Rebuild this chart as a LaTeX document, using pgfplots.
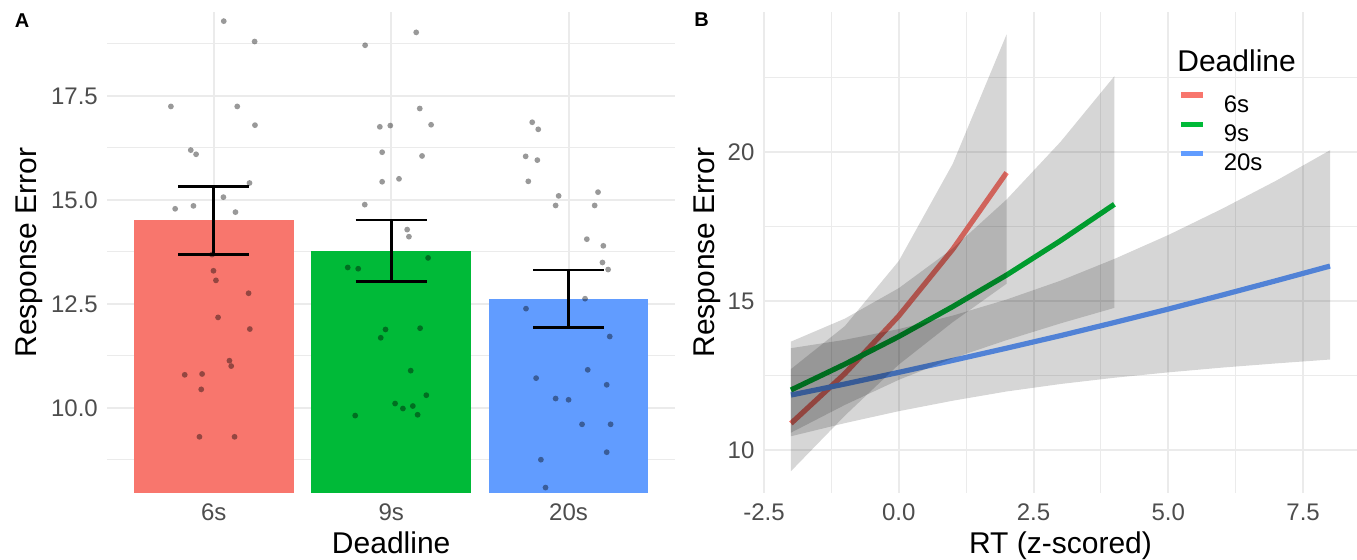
\documentclass[border=0pt]{standalone}
\usepackage{pgfplots}
\pgfplotsset{compat=1.18}
\usepackage{fontspec}
\setmainfont{Liberation Sans}
\definecolor{c6}{HTML}{F8766D}
\definecolor{c9}{HTML}{00BA38}
\definecolor{c20}{HTML}{619CFF}
\definecolor{gridc}{HTML}{EBEBEB}
\definecolor{tickc}{HTML}{4D4D4D}
\pgfplotsset{
  myaxis/.style={
    anchor=south west, scale only axis, enlargelimits=false,
    axis line style={draw=none},
    major tick length=0pt, minor tick length=0pt,
    major grid style={gridc, line width=1pt},
    minor grid style={gridc, line width=0.55pt},
    tick label style={font=\fontsize{12}{12}\selectfont, text=tickc, inner sep=0pt, text height=8.6pt, text depth=0pt},
    xticklabel style={anchor=north, yshift=-5.15pt},
    yticklabel style={anchor=east, xshift=-4.6pt},
    label style={font=\fontsize{15}{15}\selectfont, inner sep=0pt, text height=10.8pt, text depth=0pt},
  },
  pts/.style={only marks, mark=*, mark size=1.45pt, mark options={fill=black, draw opacity=0, fill opacity=0.4}},
  eb/.style={black, line width=1.4pt},
  band/.style={fill=black, fill opacity=0.16, draw=none, forget plot},
}
\begin{document}
\begin{tikzpicture}
\path (0pt,0pt) rectangle (678.5pt,280pt);
% ---------------- Panel A ----------------
\begin{axis}[myaxis, at={(53.7pt,33.65pt)}, width=283.8pt, height=240.35pt,
  xmin=0.4, xmax=3.6, ymin=7.957, ymax=19.51,
  xtick={1,2,3}, xticklabels={6s,9s,20s},
  ytick={10,12.5,15,17.5}, yticklabels={10.0,12.5,15.0,17.5},
  minor ytick={8.75,11.25,13.75,16.25,18.75},
  xmajorgrids=true, ymajorgrids=true, yminorgrids=true,
  xlabel={Deadline}, ylabel={Response Error},
  xlabel style={at={(axis description cs:0.5,-0.1036)}, anchor=center},
  ylabel style={at={(axis description cs:-0.1445,0.5)}, anchor=center},
]
\addplot[ybar, bar width=0.9, fill=c6, draw=none] coordinates {(1,14.50)};
\addplot[ybar, bar width=0.9, fill=c9, draw=none] coordinates {(2,13.77)};
\addplot[ybar, bar width=0.9, fill=c20, draw=none] coordinates {(3,12.62)};
\addplot[pts] table {
x y
1.056 19.29
1.230 18.80
0.758 17.24
1.132 17.24
1.232 16.79
0.870 16.19
0.900 16.09
1.201 15.40
0.782 14.78
0.885 14.85
1.054 15.06
1.122 14.70
0.990 13.68
0.998 13.29
1.012 13.06
1.196 12.75
1.024 12.17
1.203 11.89
1.088 11.13
1.098 11.00
0.836 10.79
0.934 10.81
0.929 10.44
0.919 9.30
1.117 9.30
};
\addplot[pts] table {
x y
2.141 19.02
1.853 18.71
2.161 17.19
1.936 16.75
1.995 16.78
2.225 16.80
1.949 16.14
2.174 16.05
1.949 15.43
2.044 15.50
1.851 14.88
2.090 14.28
2.100 14.11
2.208 13.60
1.755 13.37
1.814 13.34
1.968 11.88
1.941 11.68
2.163 11.91
2.110 10.89
2.198 10.30
2.022 10.10
2.066 9.98
2.122 10.04
2.149 9.83
1.797 9.81
};
\addplot[pts] table {
x y
2.795 16.86
2.829 16.69
2.758 16.04
2.824 15.95
2.773 15.44
2.944 15.09
3.166 15.18
2.927 14.86
3.147 14.86
3.103 14.05
3.196 13.89
3.191 13.49
3.223 13.32
3.093 12.62
2.760 12.38
3.232 11.71
3.108 10.91
2.817 10.71
3.215 10.55
2.927 10.22
3.000 10.19
3.076 9.60
3.237 9.60
3.215 8.93
2.844 8.75
2.870 8.08
};
% error bars
\addplot[eb] coordinates {(1,13.68) (1,15.32)};
\addplot[eb] coordinates {(0.8,13.68) (1.2,13.68)};
\addplot[eb] coordinates {(0.8,15.32) (1.2,15.32)};
\addplot[eb] coordinates {(2,13.03) (2,14.51)};
\addplot[eb] coordinates {(1.8,13.03) (2.2,13.03)};
\addplot[eb] coordinates {(1.8,14.51) (2.2,14.51)};
\addplot[eb] coordinates {(3,11.93) (3,13.31)};
\addplot[eb] coordinates {(2.8,11.93) (3.2,11.93)};
\addplot[eb] coordinates {(2.8,13.31) (3.2,13.31)};
\end{axis}
% ---------------- Panel B ----------------
\begin{axis}[myaxis, at={(382pt,33.65pt)}, width=296.5pt, height=240.35pt,
  xmin=-2.5, xmax=8.5, ymin=8.58, ymax=24.68,
  xtick={-2.5,0,2.5,5,7.5}, xticklabels={-2.5,0.0,2.5,5.0,7.5},
  minor xtick={-1.25,1.25,3.75,6.25},
  ytick={10,15,20}, yticklabels={10,15,20}, minor ytick={12.5,17.5,22.5},
  xmajorgrids=true, ymajorgrids=true, xminorgrids=true, yminorgrids=true,
  xlabel={RT (z-scored)}, ylabel={Response Error},
  xlabel style={at={(axis description cs:0.5,-0.1036)}, anchor=center},
  ylabel style={at={(axis description cs:-0.102,0.5)}, anchor=center},
  legend style={at={(axis description cs:0.6981,0.7514)}, anchor=west, draw=none, fill=none,
    font=\fontsize{12}{12}\selectfont, row sep=4.65pt, column sep=9pt, inner sep=0pt,
    nodes={inner sep=0pt, text height=8.6pt, text depth=0pt}},
  legend cell align=left,
  legend image code/.code={\draw[#1, line width=2.7pt] (0pt,4.3pt) -- (11pt,4.3pt);},
]
\addplot[c6, line width=2.6pt] coordinates {(-2,10.90) (-1,12.57) (0,14.50) (1,16.73) (2,19.30)};
\addlegendentry{6s}
\addplot[c9, line width=2.6pt] coordinates {(-2,12.02) (-1,12.885) (0,13.81) (1,14.81) (2,15.87) (3,17.02) (4,18.24)};
\addlegendentry{9s}
\addplot[c20, line width=2.6pt] coordinates {(-2,11.85) (-1,12.22) (0,12.61) (1,13.01) (2,13.42) (3,13.84) (4,14.28) (5,14.73) (6,15.20) (7,15.68) (8,16.17)};
\addlegendentry{20s}
% confidence bands (upper edge left to right, then lower edge right to left)
\addplot[band] coordinates {(-2,12.72) (-1,14.16) (0,16.34) (1,19.59) (2,23.93)
  (2,15.58) (1,14.29) (0,12.87) (-1,11.16) (-2,9.30)} -- cycle;
\addplot[band] coordinates {(-2,13.64) (-1,14.41) (0,15.43) (1,16.76) (2,18.40) (3,20.33) (4,22.53)
  (4,14.77) (3,14.25) (2,13.69) (1,13.08) (0,12.36) (-1,11.52) (-2,10.59)} -- cycle;
\addplot[band] coordinates {(-2,13.42) (-1,13.70) (0,14.06) (1,14.51) (2,15.05) (3,15.68) (4,16.41) (5,17.21) (6,18.09) (7,19.03) (8,20.05)
  (8,13.04) (7,12.91) (6,12.77) (5,12.61) (4,12.43) (3,12.22) (2,11.97) (1,11.66) (0,11.31) (-1,10.91) (-2,10.47)} -- cycle;
\end{axis}
\node[anchor=west, inner sep=0pt, text height=10.9pt, text depth=0pt, font=\fontsize{15}{15}\selectfont] at (588.5pt,249.55pt) {Deadline};
\node[anchor=center, inner sep=0pt, font=\fontsize{10}{10}\selectfont\bfseries] at (11pt,269.5pt) {A};
\node[anchor=center, inner sep=0pt, font=\fontsize{10}{10}\selectfont\bfseries] at (350.75pt,270pt) {B};
\pgfresetboundingbox
\path[use as bounding box] (0pt,0pt) rectangle (678.5pt,280pt);
\end{tikzpicture}
\end{document}
